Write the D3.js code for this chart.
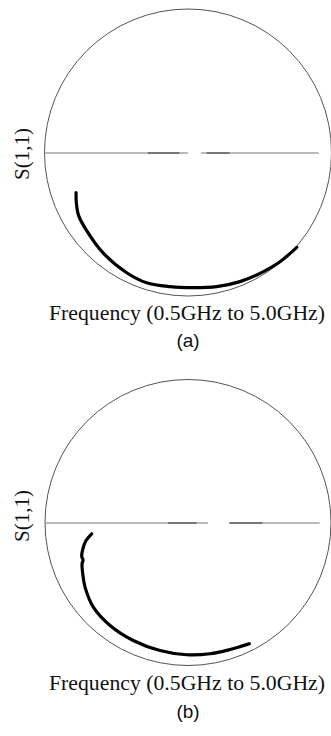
<!DOCTYPE html>
<html>
<head>
<meta charset="utf-8">
<script src="https://cdn.jsdelivr.net/npm/d3@7"></script>
<style>
  html, body { margin: 0; padding: 0; background: #fff; }
  svg { display: block; }
</style>
</head>
<body>
<svg id="chart" width="331" height="736"></svg>
<script>
// Reflection coefficient S(1,1), 0.5 GHz to 5.0 GHz, real and imaginary parts
const panelLabels = ["(a)", "(b)"];
const xAxisLabel = "Frequency (0.5GHz to 5.0GHz)";
const yAxisLabel = "S(1,1)";

const s11A_re = [-0.780, -0.778, -0.762, -0.706, -0.592, -0.427, -0.289, -0.125, 0.035, 0.200, 0.362, 0.502, 0.641, 0.758];
const s11A_im = [-0.280, -0.352, -0.440, -0.545, -0.700, -0.838, -0.908, -0.935, -0.942, -0.935, -0.900, -0.842, -0.761, -0.661];

const s11B_re = [-0.673, -0.713, -0.732, -0.743, -0.734, -0.741, -0.736, -0.720, -0.662, -0.545, -0.383, -0.196, -0.009, 0.154, 0.294, 0.429];
const s11B_im = [-0.079, -0.126, -0.173, -0.238, -0.262, -0.290, -0.359, -0.452, -0.592, -0.720, -0.825, -0.895, -0.925, -0.918, -0.888, -0.848];

const panels = [
  { re: s11A_re, im: s11A_im, cx: 188, cy: 152.5, r: 143.5, label: panelLabels[0],
    xLabelY: 319.5, panelLabelY: 347, yLabelY: 154,
    lineEnd: 0.91, gap: [0.0, 0.09], dark: [[-0.28, -0.06], [0.13, 0.29]] },
  { re: s11B_re, im: s11B_im, cx: 188, cy: 522.5, r: 143, label: panelLabels[1],
    xLabelY: 689.5, panelLabelY: 717.5, yLabelY: 516,
    lineEnd: 0.92, gap: [0.14, 0.29], dark: [[-0.14, 0.06], [0.29, 0.52]] }
];

const svg = d3.select("#chart");

panels.forEach(p => {
  const x = d3.scaleLinear().domain([-1, 1]).range([p.cx - p.r, p.cx + p.r]);
  const y = d3.scaleLinear().domain([-1, 1]).range([p.cy + p.r, p.cy - p.r]);
  const g = svg.append("g");

  // unit circle |Γ| = 1
  g.append("circle")
    .attr("cx", x(0)).attr("cy", y(0)).attr("r", x(1) - x(0))
    .attr("fill", "none").attr("stroke", "#555").attr("stroke-width", 1);

  // real axis, with a short break near the centre
  const axisY = y(0) + 0.5;
  [[-1, p.gap[0]], [p.gap[1], p.lineEnd]].forEach(([a, b]) => {
    g.append("line")
      .attr("x1", x(a)).attr("x2", x(b)).attr("y1", axisY).attr("y2", axisY)
      .attr("stroke", "#777").attr("stroke-width", 1);
  });
  p.dark.forEach(([a, b]) => {
    g.append("line")
      .attr("x1", x(a)).attr("x2", x(b)).attr("y1", axisY).attr("y2", axisY)
      .attr("stroke", "#333").attr("stroke-width", 1);
  });

  // measured S(1,1) trace
  const pts = p.re.map((v, i) => [v, p.im[i]]);
  const line = d3.line()
    .x(d => x(d[0])).y(d => y(d[1]))
    .curve(d3.curveCatmullRom.alpha(0.5));
  g.append("path")
    .attr("d", line(pts))
    .attr("fill", "none").attr("stroke", "#000")
    .attr("stroke-width", 3.2).attr("stroke-linecap", "round").attr("stroke-linejoin", "round");

  // axis titles
  g.append("text")
    .attr("x", 187).attr("y", p.xLabelY)
    .attr("text-anchor", "middle")
    .attr("font-family", "Liberation Serif, Times New Roman, serif")
    .attr("font-size", 21)
    .attr("textLength", 276).attr("lengthAdjust", "spacingAndGlyphs")
    .attr("fill", "#111")
    .text(xAxisLabel);

  g.append("text")
    .attr("transform", `translate(28.5,${p.yLabelY}) rotate(-90)`)
    .attr("text-anchor", "middle")
    .attr("font-family", "Liberation Serif, Times New Roman, serif")
    .attr("font-size", 21)
    .attr("fill", "#111")
    .text(yAxisLabel);

  g.append("text")
    .attr("x", 188).attr("y", p.panelLabelY)
    .attr("text-anchor", "middle")
    .attr("font-family", "Liberation Sans, Arial, sans-serif")
    .attr("font-size", 19)
    .attr("fill", "#111")
    .text(p.label);
});
</script>
</body>
</html>
